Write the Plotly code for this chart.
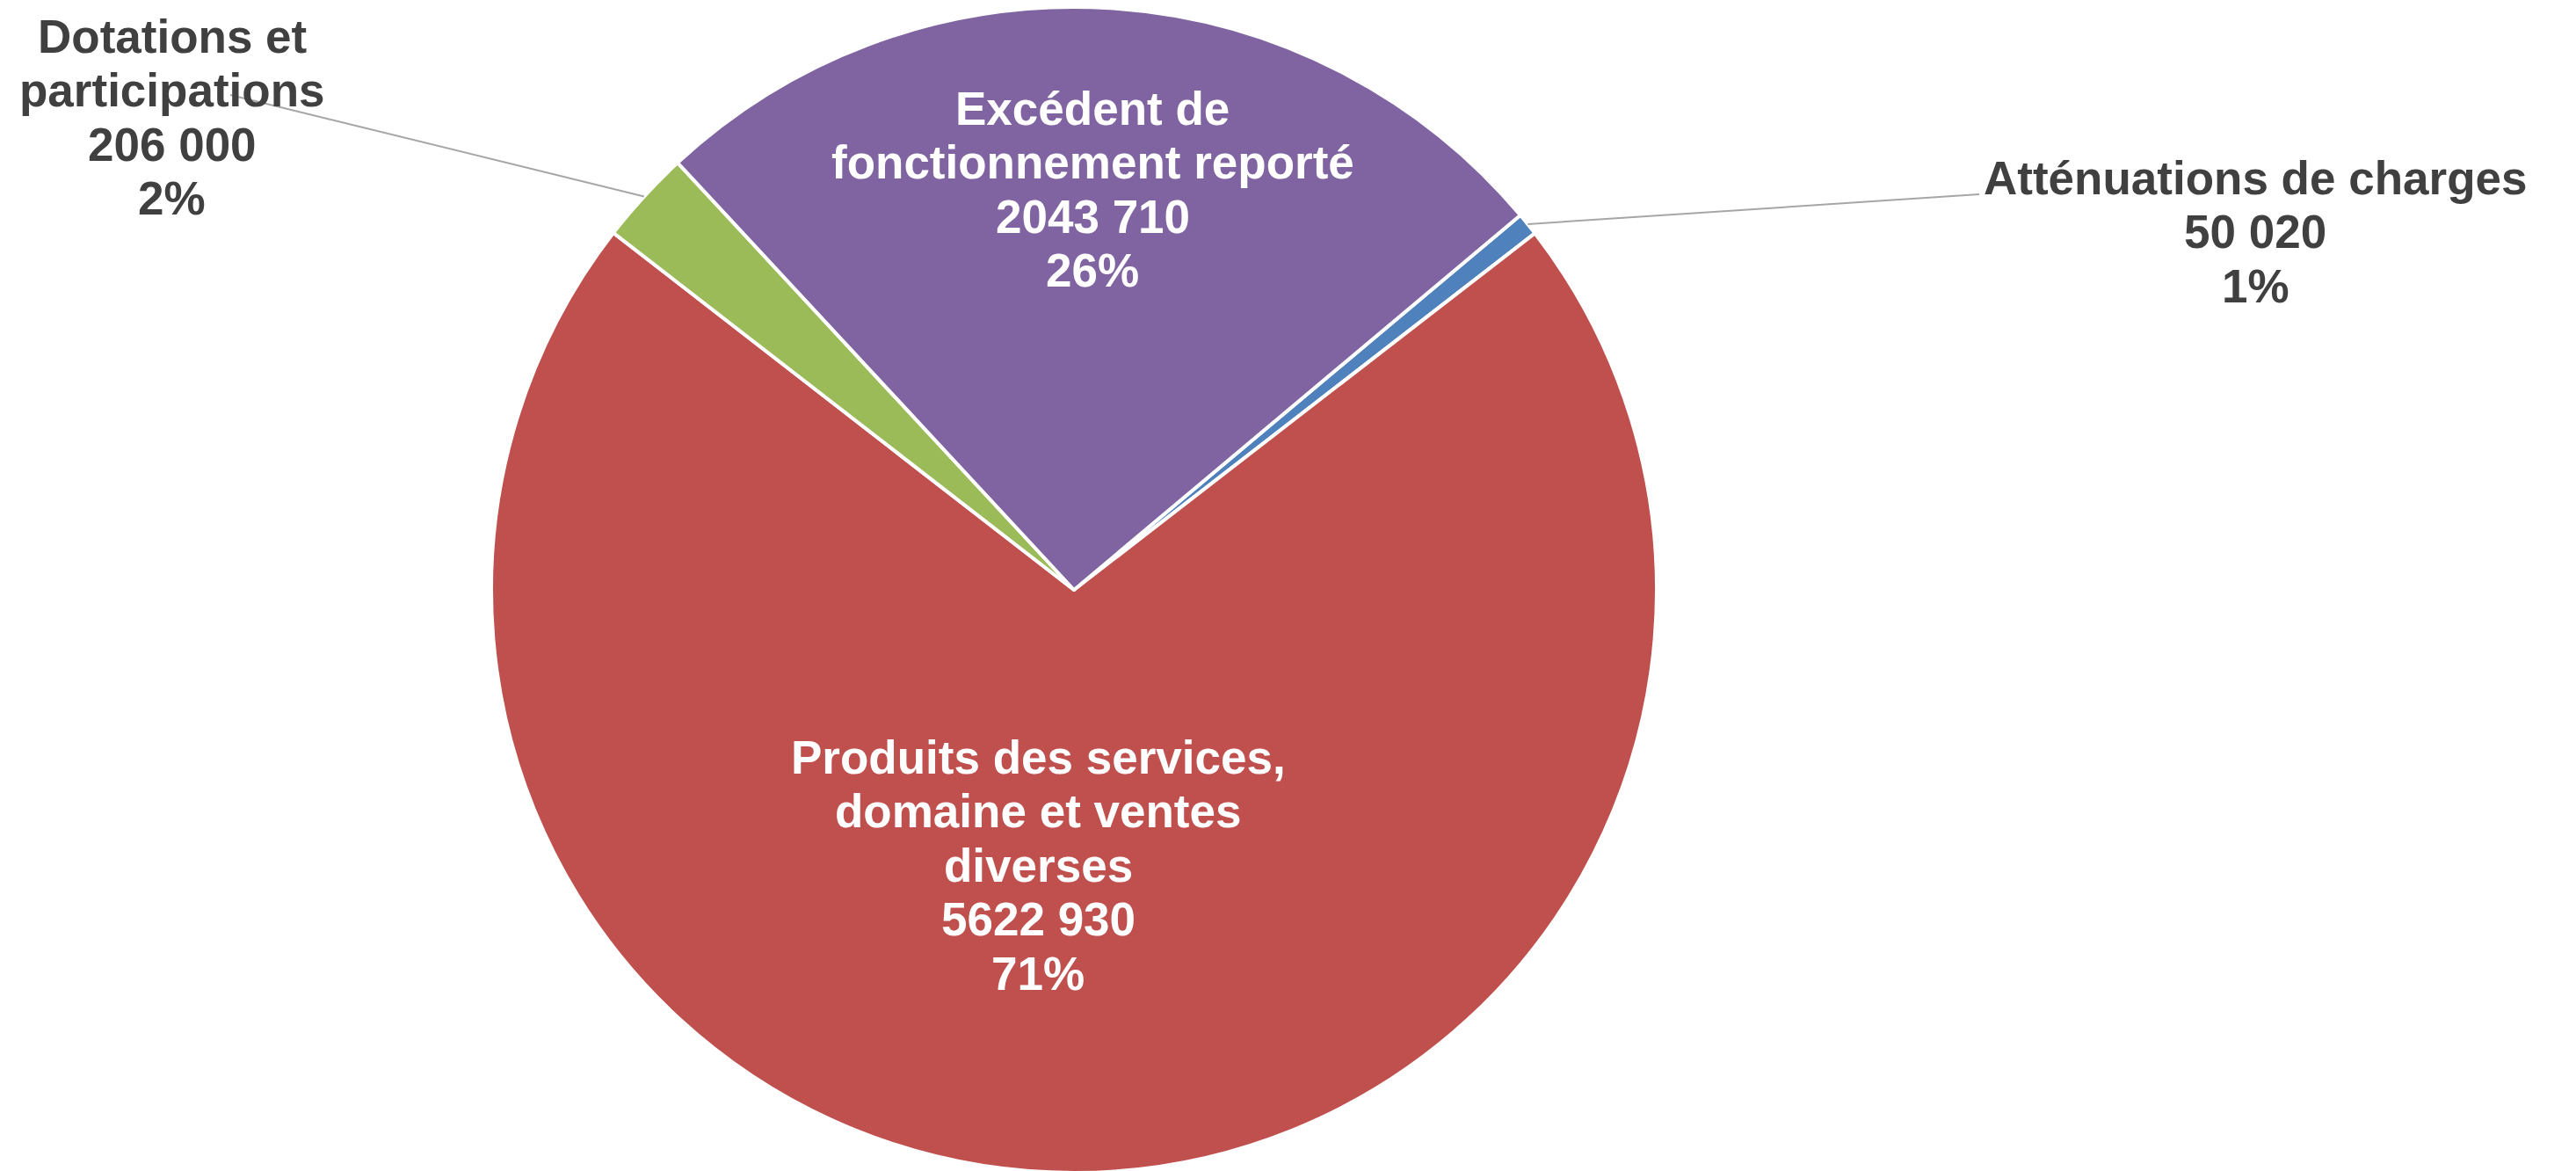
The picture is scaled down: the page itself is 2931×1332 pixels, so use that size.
import math
import plotly.graph_objects as go

# ---- data ----
categories = ["Atténuations de charges",
              "Produits des services, domaine et ventes diverses",
              "Dotations et participations",
              "Excédent de fonctionnement reporté"]
label_lines = [["Atténuations de charges"],
               ["Produits des services,", "domaine et ventes", "diverses"],
               ["Dotations et", "participations"],
               ["Excédent de", "fonctionnement reporté"]]
values = [50020, 5622930, 206000, 2043710]
value_labels = ["50 020", "5622 930", "206 000", "2043 710"]
pct_labels = ["1%", "71%", "2%", "26%"]
colors = ["#4F81BD", "#C0504D", "#9BBB59", "#8064A2"]

# ---- layout geometry (page pixels) ----
OFF = 8                      # default body margin of the html page
W, H = 2931 - OFF, 1326      # figure size
cx, cy = 1222, 671           # pie centre in page pixels
R = H / 2
rotation = 50
# label anchor: (x center, y of first line) in page pixels, outside?
label_pos = [(2566, 202, True), (1181, 861, False), (196, 41, True), (1243, 123, False)]
line_gap = 61.5
font_size = 53
leader_start = {0: (2252, 221), 2: (262, 108)}


def px(x):
    return (x - OFF) / W


def py(y):
    return 1 - (y - OFF) / H


fig = go.Figure(go.Pie(
    labels=categories, values=values, sort=False, direction="clockwise",
    rotation=rotation, textinfo="none", hoverinfo="label+value+percent",
    marker=dict(colors=colors, line=dict(color="white", width=4)),
    domain=dict(x=[px(cx - R), px(cx + R)], y=[0, 1]),
    showlegend=False,
))

annotations = []
shapes = []
total = sum(values)
cum = 0.0
for i, v in enumerate(values):
    frac = v / total
    mid = math.radians(rotation + 360 * (cum + frac / 2))
    cum += frac
    lx, ly, outside = label_pos[i]
    lines = label_lines[i] + [value_labels[i], pct_labels[i]]
    col = "#404040" if outside else "white"
    for k, t in enumerate(lines):
        annotations.append(dict(
            x=px(lx), y=py(ly + k * line_gap), xref="paper", yref="paper",
            text=t, showarrow=False, xanchor="center", yanchor="middle",
            font=dict(family="Liberation Sans, Arial, sans-serif", size=font_size,
                      color=col, weight="bold")))
    if i in leader_start:
        ex = cx + R * math.sin(mid)
        ey = cy - R * math.cos(mid)
        sx, sy = leader_start[i]
        shapes.append(dict(type="line", xref="paper", yref="paper",
                           x0=px(sx), y0=py(sy), x1=px(ex), y1=py(ey),
                           line=dict(color="#A6A6A6", width=2)))

fig.update_layout(width=W, height=H, margin=dict(l=0, r=0, t=0, b=0),
                  paper_bgcolor="white", plot_bgcolor="white",
                  annotations=annotations, shapes=shapes)
fig.write_html("out.html")
